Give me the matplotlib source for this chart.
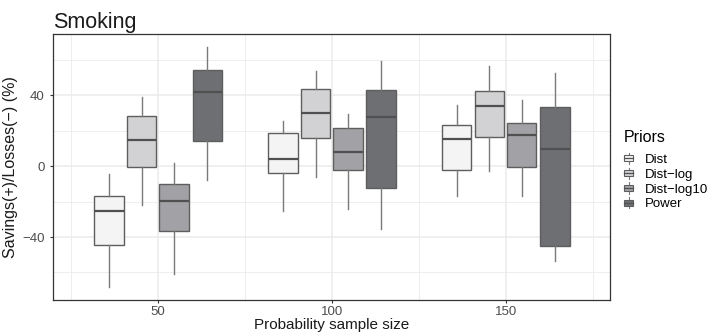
import matplotlib
matplotlib.use("Agg")
import matplotlib.pyplot as plt
from matplotlib.patches import Rectangle
from matplotlib.lines import Line2D
from matplotlib.legend_handler import HandlerBase
import numpy as np

plt.rcParams["font.family"] = ["Liberation Sans", "DejaVu Sans"]

# Data (percent savings/losses)
sizes = [50, 100, 150]
priors = ["Dist", "Dist\u2212log", "Dist\u2212log10", "Power"]
colors = ["#f4f4f4", "#d2d2d4", "#a2a2a6", "#6e6f73"]

# each entry: [whislo, q1, med, q3, whishi] per sample size
dist = [[-68.4, -44.5, -25.4, -16.7, -4.3],
        [-25.2, -4.1, 3.9, 18.4, 25.5],
        [-16.7, -2.1, 15.0, 22.9, 34.2]]
dist_log = [[-22.2, -0.8, 14.6, 28.2, 38.9],
            [-6.4, 15.6, 29.9, 43.4, 53.3],
            [-2.6, 16.2, 34.0, 42.1, 56.3]]
dist_log10 = [[-61.0, -36.8, -19.9, -10.1, 1.7],
              [-24.0, -2.1, 7.9, 21.6, 29.5],
              [-16.7, -0.8, 17.3, 24.2, 37.4]]
power = [[-7.9, 13.9, 41.7, 54.1, 67.2],
         [-35.3, -12.6, 27.4, 43.0, 59.0],
         [-53.5, -45.1, 9.8, 33.1, 52.2]]
series = [dist, dist_log, dist_log10, power]


# little boxplot glyph for the legend keys
class BoxKey(HandlerBase):
    def create_artists(self, legend, orig, xd, yd, w, h, fontsize, trans):
        fc = orig.get_facecolor()
        rect = Rectangle((xd + 0.1 * w, yd + 0.15 * h), 0.8 * w, 0.7 * h,
                         facecolor=fc, edgecolor="#5e5e5e", linewidth=0.8, transform=trans)
        wl = Line2D([xd + w / 2, xd + w / 2], [yd - 0.1 * h, yd + 1.1 * h],
                    color="#7a7a7a", linewidth=0.8, transform=trans)
        md = Line2D([xd + 0.1 * w, xd + 0.9 * w], [yd + h / 2, yd + h / 2],
                    color="#505050", linewidth=0.9, transform=trans)
        return [wl, rect, md]


fig = plt.figure(figsize=(7.08, 3.32), dpi=100)
ax = fig.add_axes([53/708, 32/332, 557/708, 266/332])

offsets = [-14.1, -4.7, 4.6, 14.2]
box_w = 8.5
for k, (vals, col) in enumerate(zip(series, colors)):
    stats = []
    for row in vals:
        lo, q1, med, q3, hi = row
        stats.append(dict(whislo=lo, q1=q1, med=med, q3=q3, whishi=hi, fliers=[]))
    pos = [s + offsets[k] for s in sizes]
    ax.bxp(stats, positions=pos, widths=box_w, patch_artist=True, showcaps=False,
           boxprops=dict(facecolor=col, edgecolor="#5e5e5e", linewidth=1.0),
           medianprops=dict(color="#505050", linewidth=1.6),
           whiskerprops=dict(color="#7a7a7a", linewidth=1.0),
           manage_ticks=False, zorder=3)

ax.set_xlim(19.8, 180)
ax.set_ylim(-75.5, 74.4)
ax.set_xticks(sizes)
ax.set_xticks([25, 75, 125, 175], minor=True)
ax.set_yticks([-40, 0, 40])
ax.set_yticklabels(["\u221240", "0", "40"])
ax.set_yticks([-60, -20, 20, 60], minor=True)
ax.grid(True, which="major", color="#ebebeb", linewidth=1.1, zorder=0)
ax.grid(True, which="minor", color="#ebebeb", linewidth=0.6, zorder=0)
ax.set_axisbelow(True)
for sp in ax.spines.values():
    sp.set_color("#333333")
    sp.set_linewidth(0.9)
ax.tick_params(which="both", length=2.5, color="#333333", labelcolor="#4d4d4d", labelsize=9.5)
ax.tick_params(axis="x", pad=1.5)
ax.tick_params(which="minor", length=0)

ax.set_title("Smoking", loc="left", fontsize=15.5, color="#1a1a1a", pad=4)
ax.set_ylabel("Savings(+)/Losses(\u2212) (%)", fontsize=11.5, color="#1a1a1a", labelpad=3)
ax.set_xlabel("Probability sample size", fontsize=11, color="#1a1a1a", labelpad=0)

handles = [Rectangle((0, 0), 1, 1, facecolor=c) for c in colors]
leg = fig.legend(handles, priors, title="Priors", loc="upper left",
                 handler_map={Rectangle: BoxKey()},
                 bbox_to_anchor=(618/708, 1 - 125/332), frameon=False,
                 fontsize=9.5, title_fontsize=11.5, handlelength=0.8, handleheight=0.7,
                 handletextpad=0.8, labelspacing=0.2, borderaxespad=0)
leg._legend_box.align = "left"
leg._legend_box.sep = 6

fig.savefig("out.png", dpi=100)
